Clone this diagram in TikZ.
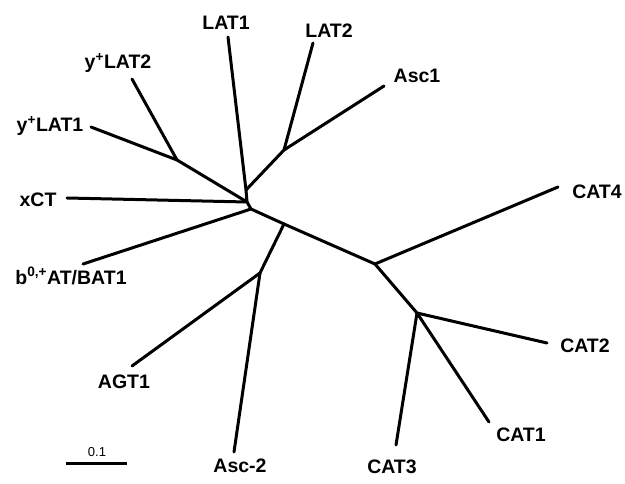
\documentclass[tikz,border=0pt]{standalone}
\usepackage{fontspec}
\setmainfont{Liberation Sans}
\begin{document}
\begin{tikzpicture}[x=1pt,y=-1pt,
  branch/.style={line width=3pt,line cap=round,line join=round},
  taxon/.style={font=\bfseries\fontsize{19.5}{21}\selectfont,inner sep=0pt},
  barlabel/.style={font=\fontsize{13}{14}\selectfont,inner sep=0pt}]
\useasboundingbox (0,0) rectangle (625,484);

% internal nodes of the tree
\coordinate (n1)   at (247,202);
\coordinate (nlat) at (246,190);
\coordinate (nla)  at (284,150);
\coordinate (ny)   at (177,160);
\coordinate (n2)   at (251,209);
\coordinate (n3)   at (284,224);
\coordinate (n4)   at (260,273);
\coordinate (nc)   at (375,264);
\coordinate (nc2)  at (417,313);

% tips of the branches
\coordinate (tlat1) at (228,37);
\coordinate (tlat2) at (313,43);
\coordinate (tasc1) at (384,86);
\coordinate (tylat2) at (132,79);
\coordinate (tylat1) at (91,127);
\coordinate (txct) at (67,198);
\coordinate (tcat4) at (558,187);
\coordinate (tbat) at (83,264);
\coordinate (tcat2) at (547,343);
\coordinate (tagt) at (132,366);
\coordinate (tcat1) at (489,422);
\coordinate (tcat3) at (396,445);
\coordinate (tasc2) at (234,452);

% taxon labels
\node[taxon] (LAT1) at (226,23) {LAT1};
\node[taxon] (LAT2) at (329,31) {LAT2};
\node[taxon] (Asc1) at (417,76) {Asc1};
\node[taxon] (yLAT2) at (118,63) {y\textsuperscript{+}LAT2};
\node[taxon] (yLAT1) at (50,126) {y\textsuperscript{+}LAT1};
\node[taxon] (xCT) at (38,200) {xCT};
\node[taxon] (CAT4) at (597,192) {CAT4};
\node[taxon] (BAT1) at (71,276) {b\textsuperscript{0,+}AT/BAT1};
\node[taxon] (CAT2) at (585,346) {CAT2};
\node[taxon] (AGT1) at (124,382) {AGT1};
\node[taxon] (CAT1) at (521,435) {CAT1};
\node[taxon] (CAT3) at (392,467) {CAT3};
\node[taxon] (Asc2) at (240,466) {Asc-2};

% branches
\draw[branch] (tylat1) -- (ny) -- (n1);
\draw[branch] (tylat2) -- (ny);
\draw[branch] (txct) -- (n1);
\draw[branch] (tlat1) -- (nlat) -- (n1);
\draw[branch] (nlat) -- (nla) -- (tlat2);
\draw[branch] (nla) -- (tasc1);
\draw[branch] (n1) -- (n2) -- (n3) -- (nc);
\draw[branch] (tbat) -- (n2);
\draw[branch] (n3) -- (n4) -- (tagt);
\draw[branch] (n4) -- (tasc2);
\draw[branch] (nc) -- (tcat4);
\draw[branch] (nc) -- (nc2) -- (tcat2);
\draw[branch] (nc2) -- (tcat1);
\draw[branch] (nc2) -- (tcat3);

% scale bar
\coordinate (sb1) at (66,463);
\coordinate (sb2) at (127,463);
\draw[line width=3pt] (sb1) -- (sb2);
\node[barlabel] (sbl) at (97,452) {0.1};
\end{tikzpicture}
\end{document}
